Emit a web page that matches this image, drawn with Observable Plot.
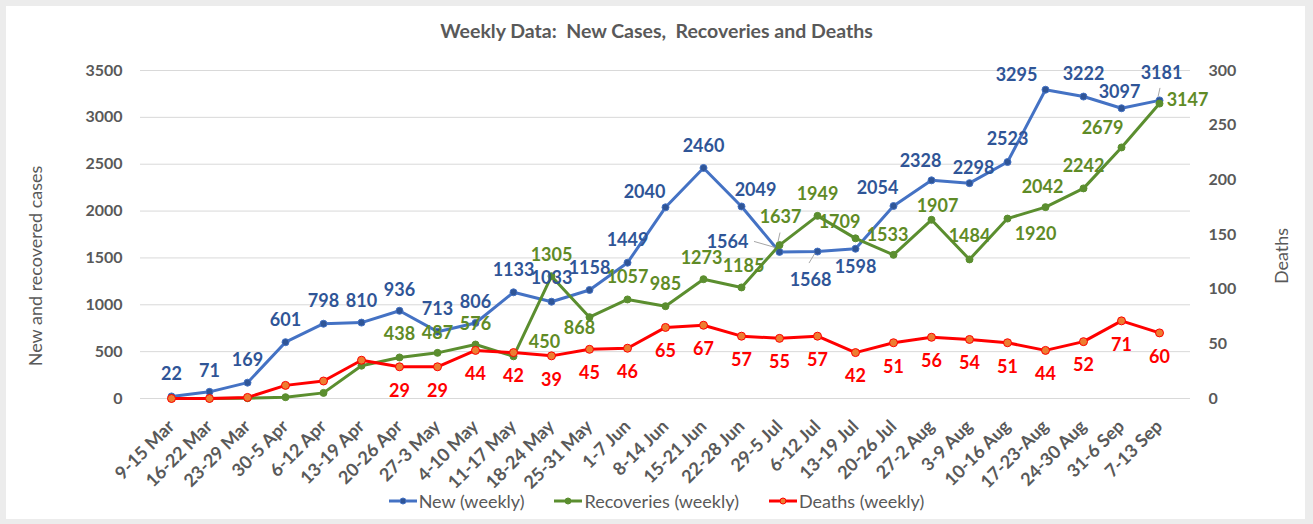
<!DOCTYPE html>
<html><head><meta charset="utf-8">
<script src="https://cdn.jsdelivr.net/npm/d3@7"></script>
<script src="https://cdn.jsdelivr.net/npm/@observablehq/plot@0.6"></script>
<style>
html,body{margin:0;padding:0;}
body{width:1313px;height:524px;background:#ececec;position:relative;overflow:hidden;font-family:Lato,"Open Sans",sans-serif;color:#595959;}
#card{position:absolute;left:6px;top:6px;width:1299px;height:513px;background:#fff;}
#title{position:absolute;left:0;top:19px;width:1313px;text-align:center;font-size:19.5px;font-weight:bold;white-space:pre;}
#chart{position:absolute;left:0;top:50px;}
.ytitle{position:absolute;font-size:18px;white-space:nowrap;transform:translate(-50%,-50%) rotate(-90deg);}
#legend{position:absolute;left:0;top:490px;width:1313px;display:flex;justify-content:center;gap:30px;font-size:18px;}
#legend span.item{display:flex;align-items:center;gap:2px;}
</style></head>
<body>
<div id="card"></div>
<div id="title">Weekly Data:  New Cases,  Recoveries and Deaths</div>
<div id="chart"></div>
<div class="ytitle" style="left:35px;top:266px;">New and recovered cases</div>
<div class="ytitle" style="left:1281px;top:256px;">Deaths</div>
<div id="legend"></div>
<script>
const weeks = ["9-15 Mar","16-22 Mar","23-29 Mar","30-5 Apr","6-12 Apr","13-19 Apr","20-26 Apr","27-3 May","4-10 May","11-17 May","18-24 May","25-31 May","1-7 Jun","8-14 Jun","15-21 Jun","22-28 Jun","29-5 Jul","6-12 Jul","13-19 Jul","20-26 Jul","27-2 Aug","3-9 Aug","10-16 Aug","17-23-Aug","24-30 Aug","31-6 Sep","7-13 Sep"];
const newCases = [22,71,169,601,798,810,936,713,806,1133,1033,1158,1449,2040,2460,2049,1564,1568,1598,2054,2328,2298,2523,3295,3222,3097,3181];
const recoveries = [0,0,3,14,60,350,438,487,576,450,1305,868,1057,985,1273,1185,1637,1949,1709,1533,1907,1484,1920,2042,2242,2679,3147];
const deaths = [0,0,1,12,16,35,29,29,44,42,39,45,46,65,67,57,55,57,42,51,56,54,51,44,52,71,60];
const leftTicks = [0,500,1000,1500,2000,2500,3000,3500];
const rightTicks = [0,50,100,150,200,250,300];
const firstLabelled = 6; // recoveries & deaths labels start at 20-26 Apr

// label offsets (dx, dy) in pixels relative to each point
const newOff = [[0,-22],[0,-21],[0,-22],[0,-22],[0,-22],[0,-21],[0,-21],[0,-22],[0,-21],[0,-22],[0,-23],[0,-22],[0,-22],[-21,-15],[0,-22],[14,-16],[-52,-10],[-7,29],[0,18],[-16,-18],[-11,-19],[4,-15],[0,-23],[-29,-14],[0,-22],[-2,-16],[2,-27]];
const recOff = {6:[0,-23],7:[0,-20],8:[0,-20],9:[31,-14],10:[0,-21],11:[-10,11],12:[0,-22],13:[0,-22],14:[-2,-21],15:[2,-21],16:[1,-28],17:[0,-22],18:[-16,-16],19:[-6,-20],20:[6,-14],21:[0,-23],22:[28,16],23:[-3,-20],24:[0,-22],25:[-19,-19],26:[28,-3]};
const deathDy = 24;

const C = {newLine:"#4472C4", newDot:"#2F5597", newText:"#2F5597",
           recLine:"#5B8E2F", recDot:"#5B8E2F", recText:"#5F8B26",
           dLine:"#FF0000", dDot:"#ED7D31", dText:"#FF0000"};

const k = 3500/300; // deaths -> left scale
const rows = weeks.map((w,i)=>({week:w, n:newCases[i], r:recoveries[i], d:deaths[i], ds:deaths[i]*k, i}));

const leaders = [
  {i:16, key:"n", a:[-25,-10], b:[-4,-4]},
  {i:17, key:"n", a:[-8,12], b:[-2,2]},
  {i:16, key:"r", a:[1,-12], b:[-1,-3]},
  {i:26, key:"n", a:[1,-12], b:[-1,-3]}
];
const leaderMark = (index, scales) => {
  const g = d3.create("svg:g").attr("stroke","#a6a6a6").attr("stroke-width",1);
  for (const L of leaders) {
    const px = scales.x(weeks[L.i]), py = scales.y(rows[L.i][L.key]);
    g.append("line").attr("x1",px+L.a[0]).attr("y1",py+L.a[1]).attr("x2",px+L.b[0]).attr("y2",py+L.b[1]);
  }
  return g.node();
};

const labelFont = {fontSize:18, fontWeight:"bold"};
const labelMarks = [];
rows.forEach((r,i)=>{
  labelMarks.push(Plot.text([r],{x:"week",y:"n",text:d=>String(d.n),dx:newOff[i][0],dy:newOff[i][1],fill:C.newText,...labelFont}));
  if (i>=firstLabelled) {
    labelMarks.push(Plot.text([r],{x:"week",y:"r",text:d=>String(d.r),dx:recOff[i][0],dy:recOff[i][1],fill:C.recText,...labelFont}));
    labelMarks.push(Plot.text([r],{x:"week",y:"ds",text:d=>String(d.d),dx:0,dy:deathDy,fill:C.dText,...labelFont}));
  }
});

const chart = Plot.plot({
  width:1313, height:440,
  marginLeft:140, marginRight:123, marginTop:20, marginBottom:92,
  style:{fontFamily:"Lato, 'Open Sans', sans-serif", fontSize:"16px", fontWeight:"bold", color:"#595959", background:"transparent", overflow:"visible"},
  x:{type:"point", domain:weeks, padding:0.5},
  y:{domain:[0,3500]},
  marks:[
    Plot.gridY(leftTicks,{stroke:"#d9d9d9", strokeOpacity:1}),
    Plot.axisY({anchor:"left", ticks:leftTicks, tickFormat:v=>String(v), tickSize:0, tickPadding:18, label:null, fontSize:16}),
    Plot.axisY({anchor:"right", ticks:rightTicks.map(t=>t*k), tickFormat:v=>String(Math.round(v/k)), tickSize:0, tickPadding:18, label:null, fontSize:16}),
    Plot.axisX({tickRotate:-45, tickSize:0, tickPadding:25, label:null, fontSize:18}),
    Plot.line(rows,{x:"week",y:"n",stroke:C.newLine,strokeWidth:3}),
    Plot.dot(rows,{x:"week",y:"n",r:3.5,fill:C.newDot,stroke:C.newLine,strokeWidth:1}),
    Plot.line(rows,{x:"week",y:"r",stroke:C.recLine,strokeWidth:3}),
    Plot.dot(rows,{x:"week",y:"r",r:3.5,fill:C.recDot,stroke:C.recLine,strokeWidth:1}),
    Plot.line(rows,{x:"week",y:"ds",stroke:C.dLine,strokeWidth:3}),
    Plot.dot(rows,{x:"week",y:"ds",r:4,fill:C.dDot,stroke:C.dLine,strokeWidth:1}),
    leaderMark,
    ...labelMarks
  ]
});
document.getElementById("chart").appendChild(chart);

// legend
const legendItems = [["New (weekly)",C.newLine,C.newDot,C.newLine],["Recoveries (weekly)",C.recLine,C.recDot,C.recLine],["Deaths (weekly)",C.dLine,C.dDot,C.dLine]];
const lg = d3.select("#legend");
for (const [name,line,dot,ds] of legendItems) {
  const it = lg.append("span").attr("class","item");
  const s = it.append("svg").attr("width",28).attr("height",12);
  s.append("line").attr("x1",0).attr("x2",28).attr("y1",6).attr("y2",6).attr("stroke",line).attr("stroke-width",3);
  s.append("circle").attr("cx",14).attr("cy",6).attr("r",3).attr("fill",dot).attr("stroke",ds);
  it.append("span").text(name);
}
</script>
</body></html>
